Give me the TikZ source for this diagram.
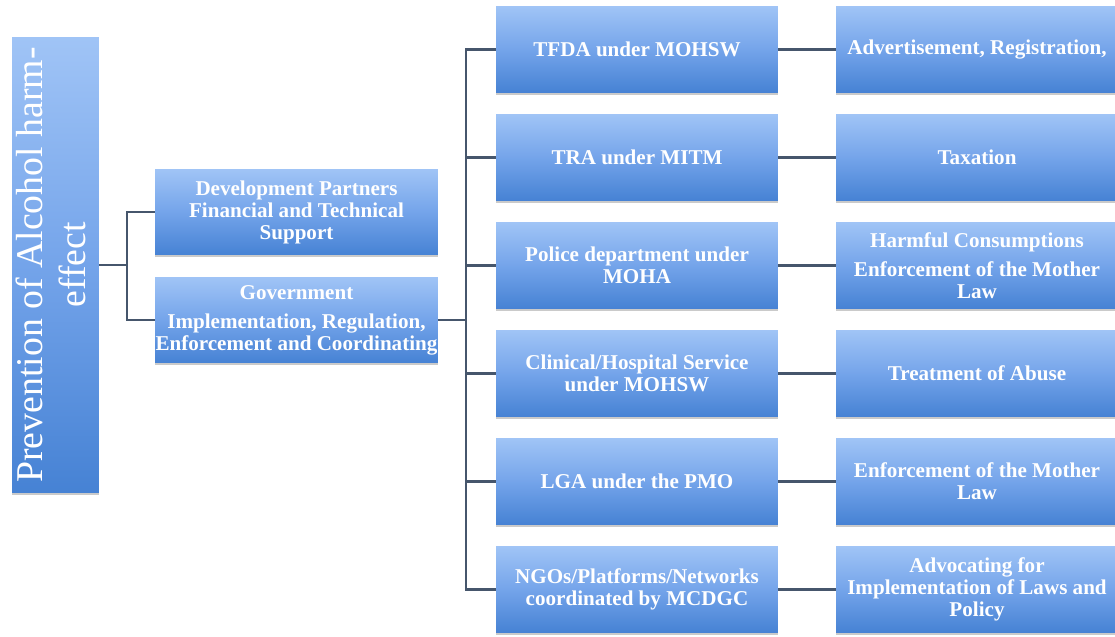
\documentclass[tikz,border=0pt]{standalone}
\usepackage{fontspec}
\setmainfont{Liberation Serif}
\usetikzlibrary{shadows}
\definecolor{boxtop}{RGB}{160,196,246}
\definecolor{boxmid}{RGB}{116,164,234}
\definecolor{boxbot}{RGB}{70,130,212}
\definecolor{conncol}{RGB}{70,86,108}
\begin{document}
\begin{tikzpicture}[x=0.02cm,y=-0.02cm,
  bluebox/.style={rectangle, top color=boxtop, bottom color=boxbot, middle color=boxmid,
    inner sep=0pt, text=white, align=center,
    drop shadow={shadow xshift=0pt, shadow yshift=-1.3pt, opacity=0.35, fill=black!60}},
  itembox/.style={bluebox, minimum width=5.64cm, minimum height=1.72cm,
    font=\bfseries\fontsize{12}{12.5}\selectfont},
  rootbox/.style={bluebox, minimum width=1.74cm, minimum height=9.12cm,
    font=\fontsize{21.5}{24}\selectfont},
  conn/.style={draw=conncol, line width=1.2pt}]
\useasboundingbox (0,0) rectangle (1115,636);
\clip (0,0) rectangle (1115,636);

\node[rootbox] (root) at (55.5,265) {\rotatebox{90}{\begin{tabular}{@{}c@{}}Prevention of Alcohol harm-\\effect\end{tabular}}};

\node[itembox, minimum width=5.66cm] (dev) at (296.5,212) {Development Partners\\Financial and Technical\\Support};
\node[itembox, minimum width=5.66cm] (gov) at (296.5,320) {Government\\[4pt]Implementation, Regulation,\\Enforcement and Coordinating};

\node[itembox] (a1) at (637,49.5) {TFDA under MOHSW};
\node[itembox] (a2) at (637,157.5) {TRA under MITM};
\node[itembox] (a3) at (637,265.5) {Police department under\\MOHA};
\node[itembox] (a4) at (637,373.5) {Clinical/Hospital Service\\under MOHSW};
\node[itembox] (a5) at (637,481.5) {LGA under the PMO};
\node[itembox] (a6) at (637,589.5) {NGOs/Platforms/Networks\\coordinated by MCDGC};

\node[itembox] (b1) at (977,49.5) {Advertisement, Registration,};
\node[itembox] (b2) at (977,157.5) {Taxation};
\node[itembox] (b3) at (977,265.5) {Harmful Consumptions\\[4pt]Enforcement of the Mother\\Law};
\node[itembox] (b4) at (977,373.5) {Treatment of Abuse};
\node[itembox] (b5) at (977,481.5) {Enforcement of the Mother\\Law};
\node[itembox] (b6) at (977,589.5) {Advocating for\\Implementation of Laws and\\Policy};

\coordinate (j1) at (127,265);
\coordinate (j2) at (466,320);

\draw[conn] (root.east) -- (j1);
\draw[conn] (j1) |- (dev.west);
\draw[conn] (j1) |- (gov.west);
\draw[conn] (gov.east) -- (j2);
\foreach \n in {a1,a2,a3,a4,a5,a6}{\draw[conn] (j2) |- (\n.west);}
\foreach \i in {1,...,6}{\draw[conn] (a\i.east) -- (b\i.west);}
\end{tikzpicture}
\end{document}
